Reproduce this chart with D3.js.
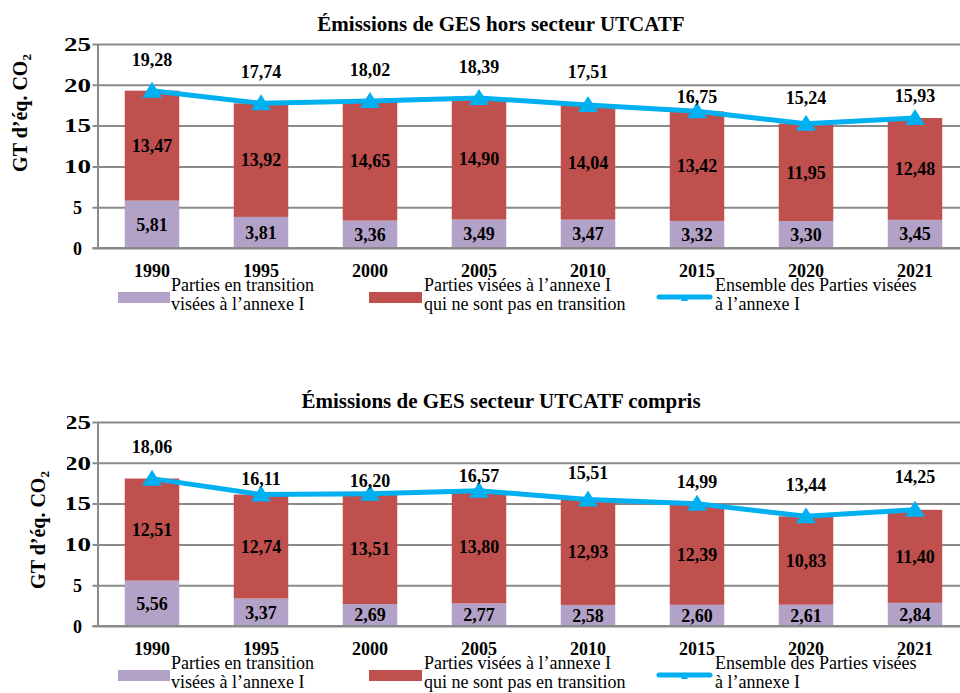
<!DOCTYPE html>
<html>
<head>
<meta charset="utf-8">
<title>Émissions de GES</title>
<script src="https://cdn.jsdelivr.net/npm/d3@7"></script>
<style>
  body { margin: 0; background: #fff; }
  svg text { font-family: "Liberation Serif", "DejaVu Serif", "Times New Roman", serif; fill: #000; }
</style>
</head>
<body>
<svg id="chart" width="960" height="693"></svg>
<script>
// ---- data ----
const years = ["1990", "1995", "2000", "2005", "2010", "2015", "2020", "2021"];
const yTicks = [0, 5, 10, 15, 20, 25];

// hors UTCATF
const horsTransition = [5.81, 3.81, 3.36, 3.49, 3.47, 3.32, 3.30, 3.45];
const horsAutres     = [13.47, 13.92, 14.65, 14.90, 14.04, 13.42, 11.95, 12.48];
const horsTotal      = [19.28, 17.74, 18.02, 18.39, 17.51, 16.75, 15.24, 15.93];

// UTCATF compris
const avecTransition = [5.56, 3.37, 2.69, 2.77, 2.58, 2.60, 2.61, 2.84];
const avecAutres     = [12.51, 12.74, 13.51, 13.80, 12.93, 12.39, 10.83, 11.40];
const avecTotal      = [18.06, 16.11, 16.20, 16.57, 15.51, 14.99, 13.44, 14.25];

// label placement (px above the point), as moved by hand in the original
const horsLabelDy = [-25, -25, -25, -25, -27, -8, -20, -16];
const avecLabelDy = [-26, -10, -7, -9, -20, -16, -25, -27];

const colTransition = "#b3a2c7";
const colAutres = "#c0504d";
const colTotal = "#00b0f0";
const gridCol = "#8a8a8a";

const fmt = v => d3.format(".2f")(v).replace(".", ",");
const svg = d3.select("#chart");

function drawChart(o) {
  const left = 97.5, right = 969.5;
  const x = d3.scaleBand().domain(years).range([left, right]).paddingInner(0.5).paddingOuter(0.25);
  const y = d3.scaleLinear().domain([0, 25]).range([o.y0, o.y0 - 204]);
  const g = svg.append("g");

  // title
  g.append("text")
    .attr("x", 501).attr("y", o.titleY)
    .attr("text-anchor", "middle")
    .style("font-weight", "bold").style("font-size", "21px")
    .text(o.title);

  // y label
  const yl = g.append("text")
    .attr("transform", "translate(" + o.yLabelX + "," + o.yLabelY + ") rotate(-90)")
    .attr("text-anchor", "middle")
    .style("font-weight", "bold").style("font-size", "20px");
  yl.append("tspan").text("GT d’éq. CO");
  yl.append("tspan").attr("dy", 4).style("font-size", "13px").text("2");

  // grid + y axis
  const yAxis = g.append("g")
    .attr("transform", "translate(" + left + ",0)")
    .call(d3.axisLeft(y).tickValues(yTicks).tickSizeInner(-(960 - left)).tickSizeOuter(0));
  yAxis.select(".domain").attr("stroke", gridCol).attr("stroke-width", 2);
  yAxis.selectAll(".tick line").attr("x1", -5).attr("stroke", gridCol).attr("stroke-width", 2);
  yAxis.selectAll(".tick text")
    .attr("x", -20).attr("dy", "0.35em")
    .attr("text-anchor", "middle")
    .style("font-weight", "bold").style("font-size", "18px")
    .each(function(d) {
      if (d >= 10) d3.select(this).attr("textLength", 27).attr("lengthAdjust", "spacingAndGlyphs");
    });
  if (o.clipTicks) {
    // the original crops the left edge of these labels
    const id = "clipTicks" + o.y0;
    svg.append("clipPath").attr("id", id)
      .append("rect").attr("x", 67 - left).attr("y", -50).attr("width", 100).attr("height", 100);
    yAxis.selectAll(".tick text").attr("clip-path", "url(#" + id + ")");
  }

  // stacked bars
  const bars = g.append("g");
  bars.selectAll("rect.tr").data(years).join("rect")
    .attr("x", d => x(d)).attr("width", x.bandwidth())
    .attr("y", (d, i) => y(o.transition[i]))
    .attr("height", (d, i) => y(0) - y(o.transition[i]))
    .attr("fill", colTransition);
  bars.selectAll("rect.au").data(years).join("rect")
    .attr("x", d => x(d)).attr("width", x.bandwidth())
    .attr("y", (d, i) => y(o.transition[i] + o.autres[i]))
    .attr("height", (d, i) => y(o.transition[i]) - y(o.transition[i] + o.autres[i]))
    .attr("fill", colAutres);

  // zero line on top
  g.append("line")
    .attr("x1", left - 5).attr("x2", 960)
    .attr("y1", y(0)).attr("y2", y(0))
    .attr("stroke", gridCol).attr("stroke-width", 2);

  // segment labels
  years.forEach((yr, i) => {
    const cx = x(yr) + x.bandwidth() / 2;
    g.append("text").attr("x", cx).attr("y", y(o.transition[i] / 2)).attr("dy", "0.35em")
      .attr("text-anchor", "middle").style("font-weight", "bold").style("font-size", "18px")
      .text(fmt(o.transition[i]));
    g.append("text").attr("x", cx).attr("y", y(o.transition[i] + o.autres[i] / 2)).attr("dy", "0.35em")
      .attr("text-anchor", "middle").style("font-weight", "bold").style("font-size", "18px")
      .text(fmt(o.autres[i]));
  });

  // total line
  const cx = d => x(d) + x.bandwidth() / 2;
  g.append("path")
    .attr("d", d3.line().x(d => cx(d)).y((d, i) => y(o.total[i]))(years))
    .attr("fill", "none").attr("stroke", colTotal).attr("stroke-width", 5)
    .attr("stroke-linejoin", "round");
  g.selectAll("path.mk").data(years).join("path")
    .attr("transform", (d, i) => "translate(" + cx(d) + "," + y(o.total[i]) + ")")
    .attr("d", "M0,-9L10,7L-10,7Z")
    .attr("fill", colTotal);
  g.selectAll("text.tot").data(years).join("text")
    .attr("x", d => cx(d))
    .attr("y", (d, i) => y(o.total[i]) + o.labelDy[i])
    .attr("text-anchor", "middle").style("font-weight", "bold").style("font-size", "18px")
    .text((d, i) => fmt(o.total[i]));

  // x labels
  g.selectAll("text.yr").data(years).join("text")
    .attr("x", d => cx(d)).attr("y", o.y0 + 29)
    .attr("text-anchor", "middle").style("font-weight", "bold").style("font-size", "18px")
    .text(d => d);

  // legend
  const ly = o.y0 + 43;
  const leg = g.append("g");
  leg.append("rect").attr("x", 118).attr("y", ly + 1).attr("width", 52).attr("height", 11).attr("fill", colTransition);
  leg.append("rect").attr("x", 369).attr("y", ly + 1).attr("width", 53).attr("height", 11).attr("fill", colAutres);
  leg.append("line").attr("x1", 659).attr("x2", 710).attr("y1", ly + 6).attr("y2", ly + 6)
    .attr("stroke", colTotal).attr("stroke-width", 5).attr("stroke-linecap", "round");
  leg.append("path").attr("d", "M684.5,3L688,10L681,10Z").attr("transform", "translate(0," + ly + ")").attr("fill", colTotal);
  const legTexts = [
    [171, ["Parties en transition", "visées à l’annexe I"]],
    [424, ["Parties visées à l’annexe I", "qui ne sont pas en transition"]],
    [715, ["Ensemble des Parties visées", "à l’annexe I"]]
  ];
  legTexts.forEach(([lx, lines]) => {
    lines.forEach((t, k) => {
      leg.append("text").attr("x", lx).attr("y", ly + k * 19)
        .style("font-size", "18px").text(t);
    });
  });
}

drawChart({
  title: "Émissions de GES hors secteur UTCATF",
  titleY: 31, y0: 248, yLabelX: 27, yLabelY: 113,
  transition: horsTransition, autres: horsAutres, total: horsTotal,
  labelDy: horsLabelDy, clipTicks: false
});
drawChart({
  title: "Émissions de GES secteur UTCATF compris",
  titleY: 408, y0: 626, yLabelX: 45, yLabelY: 530,
  transition: avecTransition, autres: avecAutres, total: avecTotal,
  labelDy: avecLabelDy, clipTicks: true
});
</script>
</body>
</html>
